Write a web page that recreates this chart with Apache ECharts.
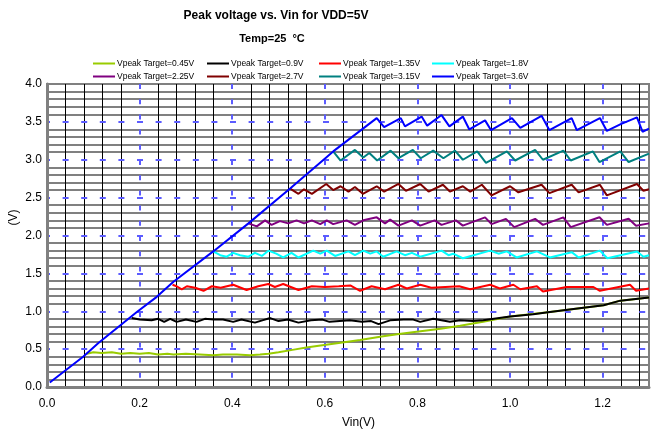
<!DOCTYPE html>
<html>
<head>
<meta charset="utf-8">
<script src="https://cdn.jsdelivr.net/npm/echarts@6/dist/echarts.min.js"></script>
<style>
  html, body { margin: 0; padding: 0; background: #fff; }
  #chart { width: 654px; height: 433px; }
</style>
</head>
<body>
<div id="chart"></div>
<script>
// series names + colours
var seriesNames = ["Vpeak Target=0.45V", "Vpeak Target=0.9V", "Vpeak Target=1.35V", "Vpeak Target=1.8V",
  "Vpeak Target=2.25V", "Vpeak Target=2.7V", "Vpeak Target=3.15V", "Vpeak Target=3.6V"];
var seriesColors = ["#99cc00", "#000000", "#ff0000", "#00ffff", "#800080", "#800000", "#008080", "#0000ff"];

// [Vin, Vpeak]
var v045 = [[0.086,0.44],[0.10,0.46],[0.118,0.45],[0.14,0.46],[0.16,0.44],[0.18,0.45],[0.20,0.44],[0.22,0.45],
  [0.24,0.43],[0.26,0.44],[0.273,0.43],[0.30,0.44],[0.33,0.43],[0.359,0.42],[0.38,0.43],[0.41,0.43],[0.438,0.42],
  [0.46,0.43],[0.478,0.44],[0.50,0.46],[0.53,0.49],[0.56,0.52],[0.583,0.54],[0.63,0.58],[0.676,0.62],[0.726,0.67],
  [0.76,0.70],[0.798,0.73],[0.85,0.77],[0.892,0.81],[0.942,0.86],[1.0,0.93],[1.086,0.99],[1.202,1.08],[1.238,1.14],[1.3,1.18]];
var v09 = [[0.183,0.91],[0.20,0.89],[0.226,0.88],[0.24,0.90],[0.253,0.86],[0.266,0.90],[0.28,0.86],[0.30,0.89],
  [0.323,0.86],[0.341,0.90],[0.36,0.89],[0.38,0.89],[0.402,0.86],[0.42,0.89],[0.449,0.85],[0.465,0.88],[0.482,0.91],
  [0.50,0.87],[0.52,0.89],[0.543,0.85],[0.57,0.88],[0.595,0.89],[0.61,0.86],[0.654,0.88],[0.68,0.86],[0.70,0.87],
  [0.716,0.83],[0.741,0.88],[0.77,0.89],[0.791,0.89],[0.806,0.86],[0.834,0.90],[0.87,0.86],[0.892,0.88],[0.92,0.87],
  [0.942,0.88],[1.0,0.93],[1.05,0.96],[1.086,0.99],[1.15,1.04],[1.202,1.08],[1.238,1.14],[1.3,1.18]];
var v135 = [[0.271,1.35],[0.28,1.33],[0.291,1.29],[0.302,1.33],[0.32,1.31],[0.338,1.27],[0.356,1.33],[0.375,1.31],
  [0.402,1.35],[0.431,1.28],[0.456,1.33],[0.478,1.36],[0.492,1.32],[0.510,1.36],[0.543,1.28],[0.572,1.33],[0.60,1.32],
  [0.63,1.33],[0.655,1.34],[0.676,1.27],[0.701,1.33],[0.730,1.29],[0.759,1.35],[0.777,1.30],[0.806,1.35],[0.83,1.31],
  [0.86,1.32],[0.89,1.33],[0.914,1.29],[0.957,1.35],[0.978,1.30],[1.007,1.35],[1.022,1.29],[1.058,1.33],[1.071,1.26],
  [1.122,1.32],[1.180,1.32],[1.194,1.27],[1.259,1.35],[1.272,1.27],[1.3,1.30]];
var v18 = [[0.359,1.79],[0.374,1.74],[0.388,1.72],[0.402,1.77],[0.417,1.74],[0.435,1.72],[0.449,1.77],[0.464,1.73],
  [0.478,1.80],[0.495,1.76],[0.510,1.71],[0.528,1.77],[0.543,1.71],[0.575,1.80],[0.590,1.76],[0.604,1.80],[0.622,1.73],
  [0.651,1.79],[0.665,1.74],[0.683,1.80],[0.698,1.76],[0.712,1.79],[0.726,1.72],[0.755,1.79],[0.773,1.74],[0.788,1.77],
  [0.806,1.72],[0.852,1.80],[0.867,1.74],[0.877,1.76],[0.898,1.70],[0.957,1.80],[0.975,1.76],[0.993,1.79],[1.014,1.71],
  [1.058,1.79],[1.086,1.71],[1.133,1.78],[1.148,1.71],[1.194,1.80],[1.210,1.70],[1.274,1.79],[1.288,1.72],[1.3,1.74]];
var v225 = [[0.435,2.16],[0.453,2.12],[0.471,2.20],[0.485,2.14],[0.503,2.19],[0.521,2.16],[0.539,2.20],[0.555,2.16],
  [0.572,2.20],[0.590,2.15],[0.604,2.20],[0.618,2.15],[0.647,2.20],[0.665,2.14],[0.683,2.20],[0.712,2.24],[0.730,2.16],
  [0.741,2.21],[0.759,2.13],[0.788,2.20],[0.806,2.13],[0.837,2.20],[0.852,2.14],[0.883,2.20],[0.898,2.13],[0.946,2.24],
  [0.960,2.15],[0.991,2.22],[1.009,2.11],[1.054,2.22],[1.071,2.14],[1.115,2.24],[1.131,2.11],[1.193,2.24],[1.209,2.14],
  [1.256,2.22],[1.272,2.13],[1.3,2.16]];
var v27 = [[0.525,2.62],[0.543,2.55],[0.555,2.61],[0.572,2.55],[0.603,2.68],[0.618,2.60],[0.634,2.65],[0.651,2.58],
  [0.665,2.64],[0.682,2.55],[0.712,2.65],[0.728,2.58],[0.759,2.68],[0.775,2.59],[0.806,2.68],[0.824,2.58],[0.855,2.67],
  [0.870,2.58],[0.898,2.65],[0.914,2.58],[0.939,2.67],[0.960,2.53],[1.0,2.65],[1.018,2.57],[1.068,2.67],[1.085,2.56],
  [1.133,2.67],[1.148,2.57],[1.194,2.67],[1.209,2.53],[1.274,2.68],[1.288,2.59],[1.3,2.61]];
var v315 = [[0.618,3.11],[0.634,2.99],[0.665,3.13],[0.683,3.03],[0.696,3.09],[0.713,2.99],[0.742,3.12],[0.759,3.02],
  [0.790,3.13],[0.807,3.02],[0.834,3.12],[0.856,3.02],[0.881,3.12],[0.898,3.00],[0.929,3.11],[0.948,2.96],[0.993,3.11],
  [1.011,2.99],[1.054,3.13],[1.071,3.00],[1.115,3.12],[1.131,2.99],[1.179,3.11],[1.193,2.97],[1.238,3.11],[1.256,2.97],[1.3,3.08]];
var v36 = [[0.006,0.06],[0.078,0.40],[0.111,0.58],[0.194,0.99],[0.237,1.19],[0.273,1.39],[0.359,1.79],[0.435,2.16],
  [0.525,2.62],[0.618,3.11],[0.712,3.55],[0.728,3.43],[0.764,3.55],[0.773,3.44],[0.809,3.57],[0.821,3.45],[0.852,3.59],
  [0.869,3.44],[0.898,3.57],[0.912,3.40],[0.946,3.52],[0.959,3.39],[1.004,3.55],[1.022,3.42],[1.068,3.58],[1.085,3.39],
  [1.133,3.55],[1.144,3.39],[1.194,3.55],[1.209,3.38],[1.239,3.47],[1.274,3.56],[1.286,3.37],[1.3,3.41]];
var seriesData = [v045, v09, v135, v18, v225, v27, v315, v36];

var FONT = "Liberation Sans, Arial, sans-serif";
var GRAY = "#808080";
var DASH_BLUE = "#5c5cff";
var clear = "rgba(0,0,0,0)";

var chart = echarts.init(document.getElementById("chart"));

// one legend per item so the columns line up like the original
var legendLeft = [93, 207, 319, 432];
var legendTop = [59, 72];
var legends = seriesNames.map(function (name, i) {
  return {
    data: [name],
    left: legendLeft[i % 4],
    top: legendTop[Math.floor(i / 4)],
    icon: "rect",
    itemWidth: 22,
    itemHeight: 2,
    padding: 0,
    selectedMode: false,
    textStyle: { fontSize: 8.5, color: "#000", fontFamily: FONT, padding: [0, 0, 0, -3] },
  };
});

var series = seriesNames.map(function (name, i) {
  return {
    name: name,
    type: "line",
    xAxisIndex: 0,
    yAxisIndex: 0,
    symbol: "none",
    smooth: false,
    lineStyle: { color: seriesColors[i], width: 2 },
    itemStyle: { color: seriesColors[i] },
    data: seriesData[i],
  };
});

chart.setOption({
  animation: false,
  textStyle: { fontFamily: FONT },
  title: [
    {
      text: "Peak voltage vs. Vin for VDD=5V",
      left: 276,
      top: 10,
      padding: 0,
      textAlign: "center",
      textStyle: { fontSize: 12, fontWeight: "bold", color: "#000", fontFamily: FONT },
    },
    {
      text: "Temp=25  °C",
      left: 272,
      top: 33,
      padding: 0,
      textAlign: "center",
      textStyle: { fontSize: 11, fontWeight: "bold", color: "#000", fontFamily: FONT },
    },
  ],
  legend: legends,
  grid: {
    left: 47,
    right: 5,
    top: 84,
    bottom: 46,
    containLabel: false,
    outerBoundsMode: "none",
    show: true,
    borderColor: GRAY,
    borderWidth: 2,
  },
  xAxis: [
    {
      type: "value",
      min: 0,
      max: 1.3,
      interval: 0.2,
      z: 1,
      name: "Vin(V)",
      nameLocation: "middle",
      nameGap: 30,
      nameMoveOverlap: false,
      nameTextStyle: { fontSize: 12, color: "#000", padding: [0, 0, 0, 21] },
      axisLine: { show: true, lineStyle: { color: GRAY, width: 3 } },
      axisTick: { show: false },
      axisLabel: {
        margin: 11,
        fontSize: 12,
        color: "#000",
        showMaxLabel: false,
        formatter: function (v) { return v.toFixed(1); },
      },
      splitLine: {
        show: true,
        showMinLine: false,
        showMaxLine: false,
        lineStyle: { color: DASH_BLUE, width: 2, type: [5, 10.2] },
      },
    },
    {
      type: "value",
      min: 0,
      max: 1.3,
      interval: 0.04,
      z: 0,
      axisLine: { show: false },
      axisTick: { show: false },
      axisLabel: { show: false },
      splitLine: {
        show: true,
        showMaxLine: false,
        lineStyle: { color: [clear, "#000", "#000", "#000", "#000"], width: 1 },
      },
    },
  ],
  yAxis: [
    {
      type: "value",
      min: 0,
      max: 4,
      interval: 0.5,
      z: 1,
      name: "(V)",
      nameLocation: "middle",
      nameGap: 27,
      nameRotate: 90,
      nameMoveOverlap: false,
      nameTextStyle: { fontSize: 12, color: "#000", padding: [0, 0, 0, 36] },
      axisLine: { show: true, lineStyle: { color: GRAY, width: 3 } },
      axisTick: { show: false },
      axisLabel: {
        margin: 5,
        fontSize: 12,
        color: "#000",
        formatter: function (v) { return v.toFixed(1); },
      },
      splitLine: {
        show: true,
        showMinLine: false,
        showMaxLine: false,
        lineStyle: { color: DASH_BLUE, width: 2, type: [6, 12.6], dashOffset: 3 },
      },
    },
    {
      type: "value",
      min: 0,
      max: 4,
      interval: 0.1,
      z: 0,
      axisLine: { show: false },
      axisTick: { show: false },
      axisLabel: { show: false },
      splitLine: {
        show: true,
        lineStyle: { color: [clear, GRAY, GRAY, GRAY, GRAY], width: 2 },
      },
    },
  ],
  series: series,
});
</script>
</body>
</html>
